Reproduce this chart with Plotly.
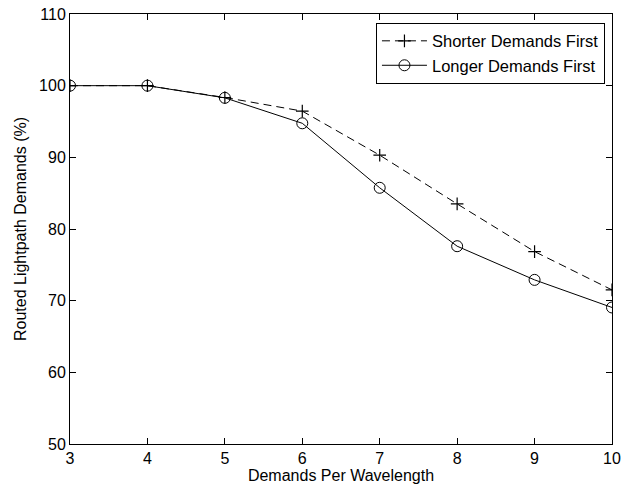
import plotly.graph_objects as go

# Demands per wavelength on the x axis
demands = [3, 4, 5, 6, 7, 8, 9, 10]
# Percentage of routed lightpath demands for each ordering strategy
shorter_first = [100.0, 100.0, 98.35, 96.45, 90.3, 83.5, 76.85, 71.5]
longer_first = [100.0, 100.0, 98.3, 94.75, 85.75, 77.6, 72.9, 69.05]

x_ticks = [3, 4, 5, 6, 7, 8, 9, 10]
y_ticks = [50, 60, 70, 80, 90, 100, 110]

family = "Liberation Sans, Arial, Helvetica, sans-serif"
font = dict(family=family, size=16, color="black")

fig = go.Figure()
fig.add_trace(go.Scatter(
    x=demands, y=shorter_first, name="Shorter Demands First",
    mode="lines+markers",
    line=dict(color="black", width=1, dash="8px,5px"),
    marker=dict(symbol="cross-thin-open", size=9, line=dict(color="black", width=1.2)),
))
fig.add_trace(go.Scatter(
    x=demands, y=longer_first, name="Longer Demands First",
    mode="lines+markers",
    line=dict(color="black", width=1),
    marker=dict(symbol="circle-open", size=11, color="black", line=dict(color="black", width=1)),
))

axis_common = dict(
    showgrid=False, zeroline=False, showline=True, linecolor="black", linewidth=1,
    mirror="allticks", ticks="inside", ticklen=6, tickwidth=1, tickcolor="black",
    tickfont=font, automargin=False,
)
fig.update_xaxes(range=[3, 10], tickvals=x_ticks,
                 title=dict(text="Demands Per Wavelength", font=font, standoff=2), **axis_common)
fig.update_yaxes(range=[50, 110], tickvals=y_ticks,
                 title=dict(text="Routed Lightpath Demands (%)", font=font, standoff=8), **axis_common)

fig.update_layout(
    width=631, height=488,
    margin=dict(l=70, r=19, t=14, b=44),
    paper_bgcolor="white", plot_bgcolor="white",
    font=font,
    showlegend=True,
    legend=dict(
        x=0.987, y=0.98, xanchor="right", yanchor="top",
        bgcolor="white", bordercolor="black", borderwidth=1,
        font=dict(family=family, size=16.5, color="black"),
        itemwidth=45, tracegroupgap=0,
    ),
)

fig.write_html("out.html")
